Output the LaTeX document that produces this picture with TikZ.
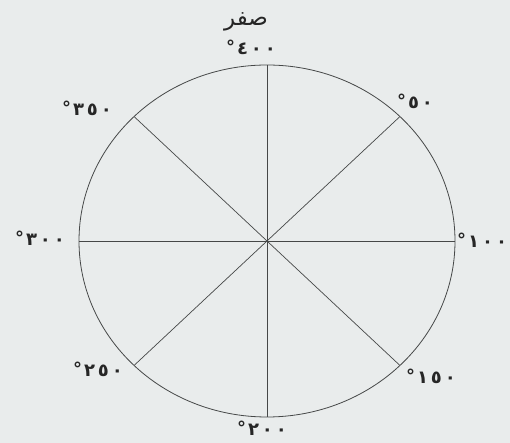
\documentclass[tikz,border=0pt]{standalone}
\usepackage{fontspec}
\usetikzlibrary{positioning,calc}
\TeXXeTstate=1
\newfontfamily\arabicfont[Script=Arabic]{DejaVu Sans}
\definecolor{paper}{RGB}{233,236,236}
\definecolor{inkgray}{RGB}{70,72,72}
% degree ring first, then the digits, kept apart so they are not reordered
\newcommand{\dg}[1]{\hbox{\raisebox{0.05em}{°}}\kern2pt\hbox{#1}}

\begin{document}
\begin{tikzpicture}[x=1pt,y=1pt,
            deg/.style={font=\arabicfont\bfseries\fontsize{18}{18}\selectfont,
                        inner sep=0pt,text=black!85},
            rim/.style={draw=inkgray,line width=0.8pt},
            spoke/.style={draw=inkgray,line width=0.7pt}]
            % background and size
            \fill[paper] (0,0) rectangle (510,443);
            \useasboundingbox (0,0) rectangle (510,443);
            \coordinate (O) at (267,202);
            \draw[rim] (O) ellipse [x radius=188,y radius=176];
            % points on the rim
            \foreach \ang/\nm in {0/e,45/ne,90/n,135/nw,180/w,225/sw,270/s,315/se}
              \coordinate (\nm) at ($(O)+({188*cos(\ang)},{176*sin(\ang)})$);
            \draw[spoke] (n)--(s);
            \draw[spoke] (e)--(w);
            \draw[spoke] (ne)--(sw);
            \draw[spoke] (nw)--(se);
            % labels
            \node[deg,font=\arabicfont\fontsize{23}{23}\selectfont]
                   (zero) at (246,421){\beginR صفر\endR};
            \node[deg] (d400) at (251,396){\dg{٤\,٠\,٠}};
            \node[deg] (d50)  at (415,342){\dg{٥\,٠}};
            \node[deg,anchor=west] (d100) at (457,203){\dg{١\,٠\,٠}};
            \node[deg] (d150) at (431,67) {\dg{١\,٥\,٠}};
            \node[deg] (d200) at (262,15) {\dg{٢\,٠\,٠}};
            \node[deg] (d250) at (98,74)  {\dg{٢\,٥\,٠}};
            \node[deg] (d300) at (40,205) {\dg{٣\,٠\,٠}};
            \node[deg] (d350) at (87,335) {\dg{٣\,٥\,٠}};
        \end{tikzpicture}
\end{document}
